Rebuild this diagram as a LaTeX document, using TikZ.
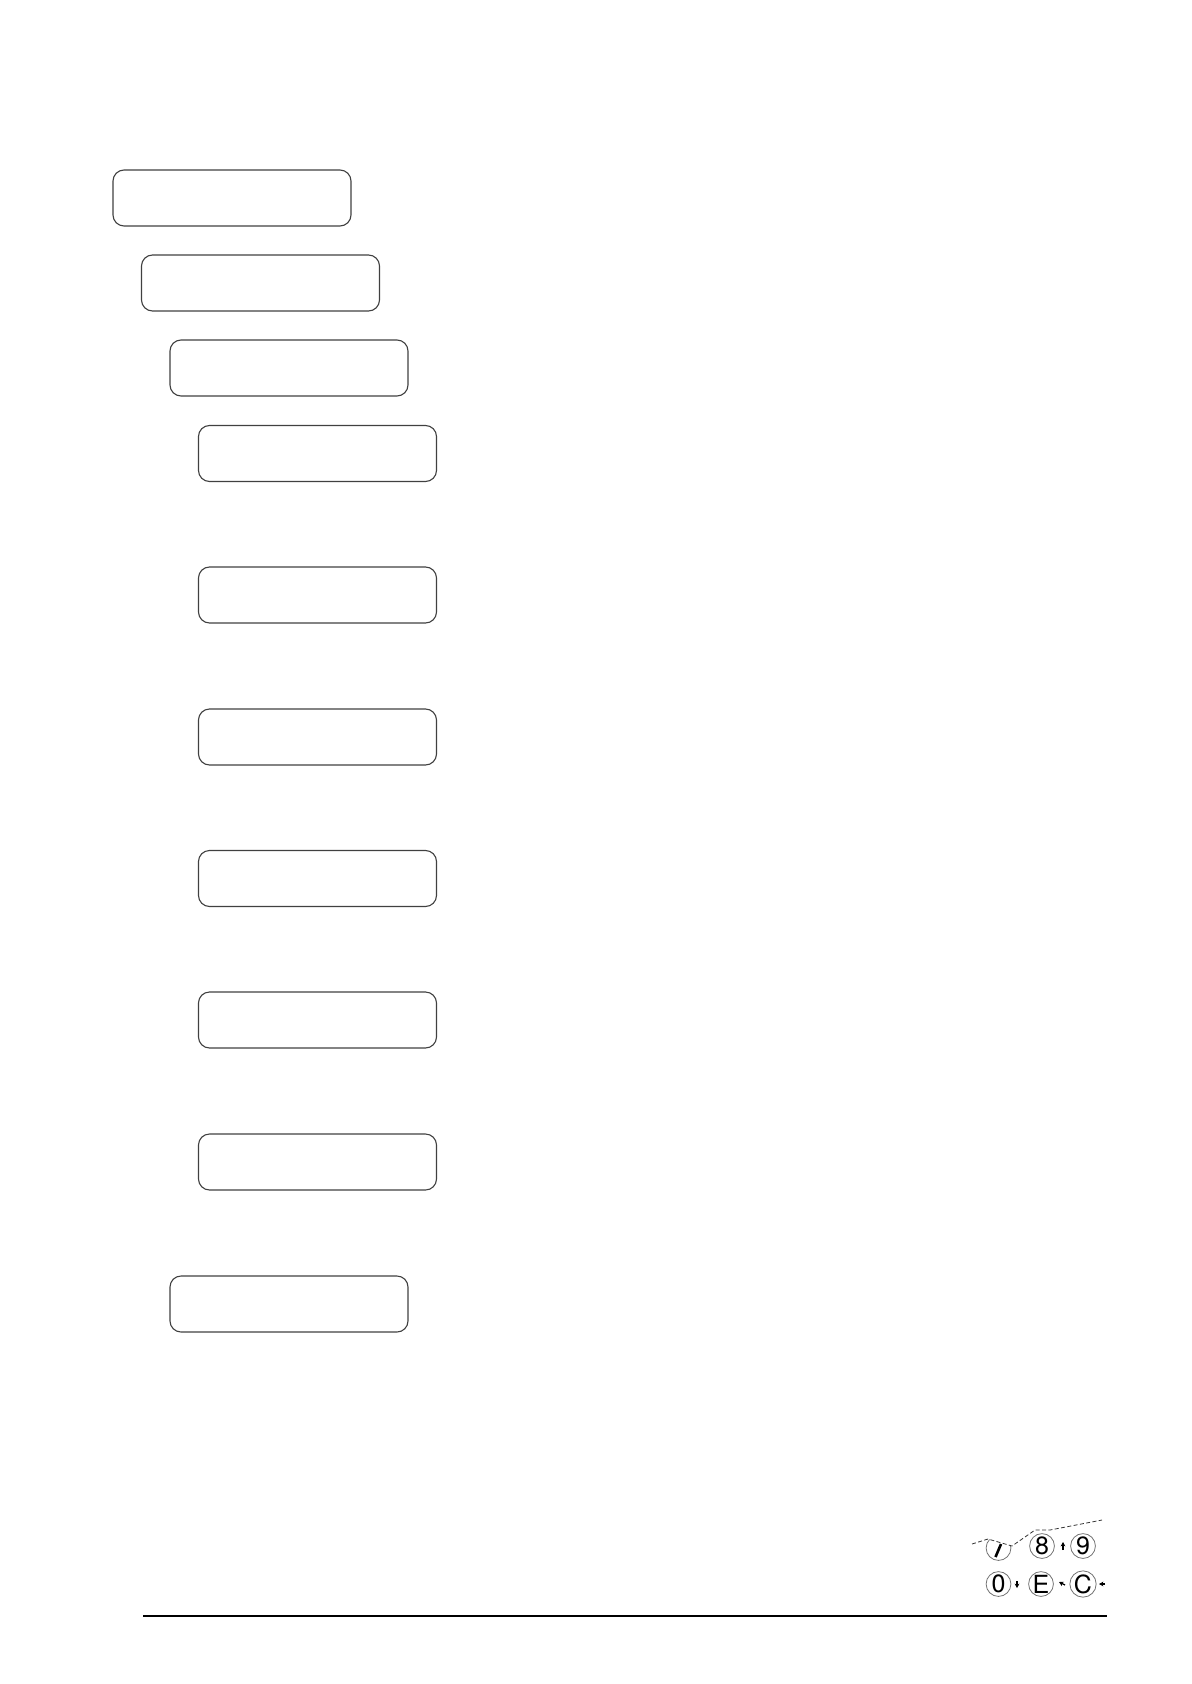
\documentclass[tikz,border=0pt]{standalone}
\usepackage{fontspec}
\setmainfont{TeX Gyre Heros}
\usetikzlibrary{arrows.meta}
\tikzset{
  screen/.style={draw=black!75, line width=0.55pt, rounded corners=5.5pt, minimum width=119pt, minimum height=28pt, inner sep=0pt},
  key/.style={draw=black!55, line width=0.4pt, circle, minimum size=12.4pt, inner sep=0pt, font=\fontsize{12.5}{12.5}\selectfont},
  tinyarrow/.style={-{Stealth[length=2.2pt,width=2.4pt]}, line width=0.6pt},
  cutline/.style={dashed, dash pattern=on 2pt off 1.2pt, line width=0.4pt, black!80}
}
\begin{document}
\begin{tikzpicture}[x=0.5pt,y=-0.5pt]
\useasboundingbox (0,0) rectangle (1191,1684);
% screens
\node[screen] (s1) at (232,198) {};
\node[screen] (s2) at (260.5,283) {};
\node[screen] (s3) at (289,368) {};
\node[screen] (s4) at (317.5,453.5) {};
\node[screen] (s5) at (317.5,595) {};
\node[screen] (s6) at (317.5,737) {};
\node[screen] (s7) at (317.5,878.5) {};
\node[screen] (s8) at (317.5,1020) {};
\node[screen] (s9) at (317.5,1162) {};
\node[screen] (s10) at (289,1304) {};
% bottom rule
\coordinate (r1) at (143,1616);
\coordinate (r2) at (1107,1616);
\draw[line width=0.6pt] (r1) -- (r2);
% keypad
\begin{scope}
\clip (960,1544) -- (972,1544) -- (988,1539) -- (1012,1546) -- (1035,1530) -- (1050,1530) -- (1102,1520) -- (1102,1600) -- (960,1600) -- cycle;
\node[key] (k7) at (998.5,1548) {};
\draw[line width=1.3pt] (1001,1544) -- (995.5,1557);
\end{scope}
\node[key] (k8) at (1042,1546) {8};
\node[key] (k9) at (1083,1546) {9};
\node[key] (k0) at (998.5,1584) {0};
\node[key] (kE) at (1041,1584) {E};
\node[key] (kC) at (1083,1584) {C};
\draw[cutline] (972,1544) -- (988,1539) -- (1012,1546) -- (1035,1530) -- (1050,1530) -- (1102,1520);
\coordinate (a1) at (1063,1550);
\coordinate (a1t) at (1063,1542);
\draw[tinyarrow] (a1) -- (a1t);
\coordinate (a2) at (1017,1581);
\coordinate (a2t) at (1017,1588);
\draw[tinyarrow] (a2) -- (a2t);
\coordinate (a3) at (1065,1585);
\coordinate (a3t) at (1059,1582);
\draw[tinyarrow] (a3) -- (a3t);
\coordinate (a4) at (1105,1584);
\coordinate (a4t) at (1099,1584);
\draw[tinyarrow] (a4) -- (a4t);
\end{tikzpicture}
\end{document}
